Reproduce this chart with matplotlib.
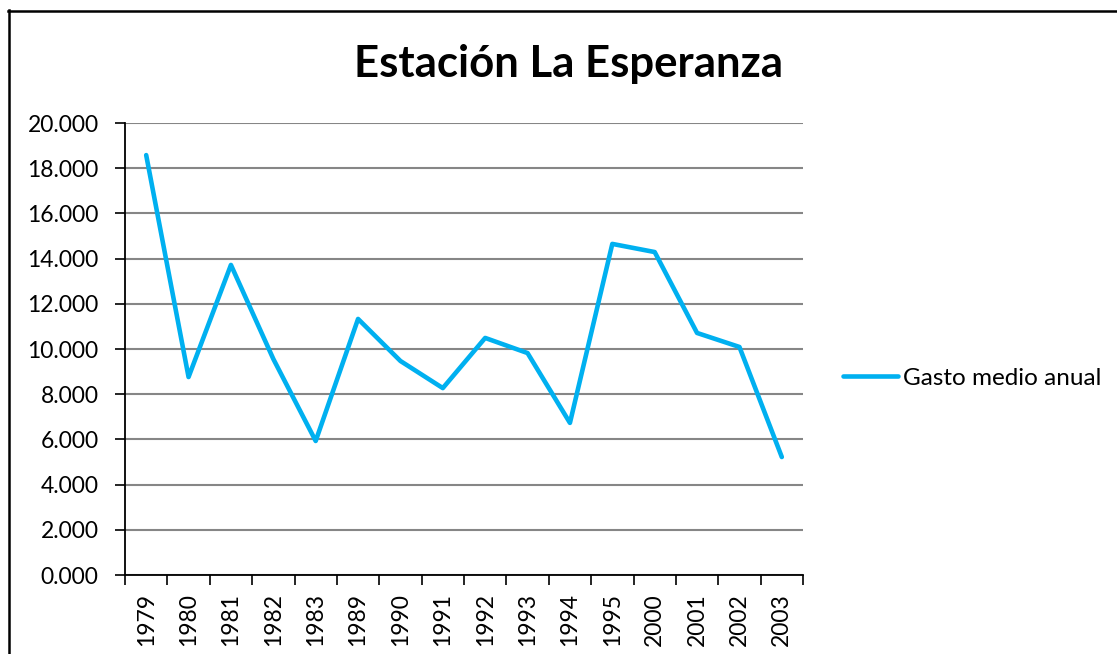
import matplotlib
matplotlib.use("Agg")
import matplotlib.pyplot as plt
from matplotlib.lines import Line2D
from matplotlib.ticker import FuncFormatter, MultipleLocator

years = ["1979", "1980", "1981", "1982", "1983", "1989", "1990", "1991",
         "1992", "1993", "1994", "1995", "2000", "2001", "2002", "2003"]
gasto = [18.58, 8.76, 13.72, 9.56, 5.93, 11.33, 9.47, 8.27,
         10.49, 9.82, 6.73, 14.65, 14.29, 10.71, 10.09, 5.22]

plt.rcParams['font.family'] = ['Lato', 'DejaVu Sans']

W, H = 1117, 654
fig = plt.figure(figsize=(W / 100, H / 100), dpi=100)

# outer frame (top and left edges visible)
fig.add_artist(Line2D([8 / W, 1.0], [1 - 10.5 / H, 1 - 10.5 / H], color='black', lw=1.8,
                      transform=fig.transFigure))
fig.add_artist(Line2D([8.5 / W, 8.5 / W], [0, 1 - 10 / H], color='black', lw=1.8,
                      transform=fig.transFigure))

left, right, top, bottom = 125, 803, 123, 575
ax = fig.add_axes([left / W, 1 - bottom / H, (right - left) / W, (bottom - top) / H])

x = list(range(len(years)))
ax.plot(x, gasto, color='#00B0F0', lw=3.3, solid_joinstyle='round', solid_capstyle='round',
        label='Gasto medio anual', zorder=3)

ax.set_xlim(-0.5, len(years) - 0.5)
ax.set_ylim(0, 20)
ax.yaxis.set_major_locator(MultipleLocator(2))
ax.yaxis.set_major_formatter(FuncFormatter(lambda v, p: f"{v:.3f}"))
ax.grid(axis='y', color='#868686', lw=1.5)
ax.set_axisbelow(True)

ax.set_xticks([i - 0.5 for i in range(len(years) + 1)], minor=False)
ax.set_xticklabels([])
ax.set_xticks(x, minor=True)
ax.set_xticklabels(years, minor=True, rotation=90, fontsize=16.5)
ax.tick_params(axis='x', which='major', length=7, width=1.2, direction='out', color='black')
ax.tick_params(axis='x', which='minor', length=0, pad=13)
ax.tick_params(axis='y', length=7, width=1.2, direction='out', labelsize=16.5, pad=12)

for s in ['top', 'right']:
    ax.spines[s].set_visible(False)
for s in ['left', 'bottom']:
    ax.spines[s].set_linewidth(1.3)
    ax.spines[s].set_color('black')

fig.text(569 / W, 1 - 64 / H, 'Estación La Esperanza', ha='center', va='center',
         fontsize=31.5, fontweight='bold')

leg = ax.legend(loc='center left', bbox_to_anchor=((843 - left) / (right - left), (575 - 378) / (bottom - top)),
                frameon=False, fontsize=17.5, handlelength=2.25, handletextpad=0.2,
                borderaxespad=0, borderpad=0)

fig.savefig('out.png', dpi=100)
